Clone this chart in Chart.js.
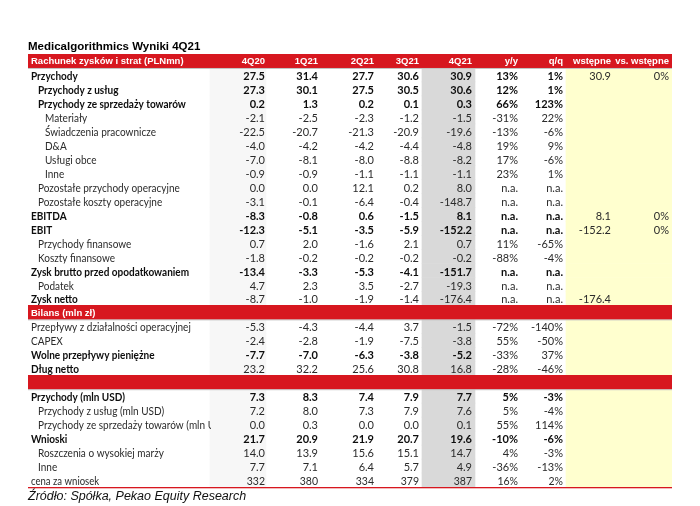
<!DOCTYPE html>
<html><head><meta charset="utf-8">
<script src="https://cdn.jsdelivr.net/npm/chart.js@4/dist/chart.umd.min.js"></script>
<style>html,body{margin:0;padding:0;background:#fff;}canvas{display:block}</style>
</head><body>
<canvas id="c" width="700" height="506"></canvas>
<script>
// ---------- content / data ----------
const TITLE = 'Medicalgorithmics Wyniki 4Q21';
const SOURCE = 'Źródło: Spółka, Pekao Equity Research';
const HEADER_LABEL = 'Rachunek zysków i strat (PLNmn)';
const COLUMNS = ['4Q20', '1Q21', '2Q21', '3Q21', '4Q21', 'y/y', 'q/q', 'wstępne', 'vs. wstępne'];
const ROW_LABELS = [
  'Przychody', 'Przychody z usług', 'Przychody ze sprzedaży towarów', 'Materiały',
  'Świadczenia pracownicze', 'D&A', 'Usługi obce', 'Inne',
  'Pozostałe przychody operacyjne', 'Pozostałe koszty operacyjne', 'EBITDA', 'EBIT',
  'Przychody finansowe', 'Koszty finansowe', 'Zysk brutto przed opodatkowaniem', 'Podatek',
  'Zysk netto', 'Bilans (mln zł)', 'Przepływy z działalności operacyjnej', 'CAPEX',
  'Wolne przepływy pieniężne', 'Dług netto', '', 'Przychody (mln USD)',
  'Przychody z usług (mln USD)', 'Przychody ze sprzedaży towarów (mln USD)', 'Wnioski',
  'Roszczenia o wysokiej marży', 'Inne', 'cena za wniosek'
];
const Q4_20 = [27.5, 27.3, 0.2, -2.1, -22.5, -4.0, -7.0, -0.9, 0.0, -3.1, -8.3, -12.3, 0.7, -1.8, -13.4, 4.7, -8.7, null, -5.3, -2.4, -7.7, 23.2, null, 7.3, 7.2, 0.0, 21.7, 14.0, 7.7, 332];
const Q1_21 = [31.4, 30.1, 1.3, -2.5, -20.7, -4.2, -8.1, -0.9, 0.0, -0.1, -0.8, -5.1, 2.0, -0.2, -3.3, 2.3, -1.0, null, -4.3, -2.8, -7.0, 32.2, null, 8.3, 8.0, 0.3, 20.9, 13.9, 7.1, 380];
const Q2_21 = [27.7, 27.5, 0.2, -2.3, -21.3, -4.2, -8.0, -1.1, 12.1, -6.4, 0.6, -3.5, -1.6, -0.2, -5.3, 3.5, -1.9, null, -4.4, -1.9, -6.3, 25.6, null, 7.4, 7.3, 0.0, 21.9, 15.6, 6.4, 334];
const Q3_21 = [30.6, 30.5, 0.1, -1.2, -20.9, -4.4, -8.8, -1.1, 0.2, -0.4, -1.5, -5.9, 2.1, -0.2, -4.1, -2.7, -1.4, null, 3.7, -7.5, -3.8, 30.8, null, 7.9, 7.9, 0.0, 20.7, 15.1, 5.7, 379];
const Q4_21 = [30.9, 30.6, 0.3, -1.5, -19.6, -4.8, -8.2, -1.1, 8.0, -148.7, 8.1, -152.2, 0.7, -0.2, -151.7, -19.3, -176.4, null, -1.5, -3.8, -5.2, 16.8, null, 7.7, 7.6, 0.1, 19.6, 14.7, 4.9, 387];
// percentages; NaN = "n.a.", null = empty cell
const YOY = [13, 12, 66, -31, -13, 19, 17, 23, NaN, NaN, NaN, NaN, 11, -88, NaN, NaN, NaN, null, -72, 55, -33, -28, null, 5, 5, 55, -10, 4, -36, 16];
const QOQ = [1, 1, 123, 22, -6, 9, -6, 1, NaN, NaN, NaN, NaN, -65, -4, NaN, NaN, NaN, null, -140, -50, 37, -46, null, -3, -4, 114, -6, -3, -13, 2];
const PRELIM = [30.9, null, null, null, null, null, null, null, null, null, 8.1, -152.2, null, null, null, null, -176.4, null, null, null, null, null, null, null, null, null, null, null, null, null];
const VS_PRELIM = [0, null, null, null, null, null, null, null, null, null, 0, 0, null, null, null, null, null, null, null, null, null, null, null, null, null, null, null, null, null, null];

// ---------- styles (kept apart from data) ----------
const SECTION_ROWS = [17, 22];                 // red band rows
const INDENT = [0,1,1,2,2,2,2,2,1,1,0,0,1,1,0,1,0,0,0,0,0,0,0,0,1,1,0,1,1,0];
const BOLD_LABEL = [1,1,1,0,0,0,0,0,0,0,1,1,0,0,1,0,1,0,0,0,1,1,0,1,0,0,1,0,0,0];
const BOLD_VAL   = [1,1,1,0,0,0,0,0,0,0,1,1,0,0,1,0,0,0,0,0,1,0,0,1,0,0,1,0,0,0];
const BOLD_PCT   = [1,1,1,0,0,0,0,0,0,0,1,1,0,0,1,0,0,0,0,0,0,0,0,1,0,0,1,0,0,0];
const SMALL_ROWS = [29];
const INT_ROWS = [29];
// layout in table units (x axis)
const TABLE_X = [28, 672];
const COL_RIGHT = [265, 318, 374, 419, 472, 518, 563, 611, 669];
const LABEL_X = 31, INDENT_STEP = 7, LABEL_CLIP = 211;
const FAINT_COL = [210, 266], GREY_COL = [422, 475], YELLOW_COL = [566, 672];

const RED = '#d7171f';
const BODY_FONT = 'Lato, "Open Sans", sans-serif';
const HEAD_FONT = '"Liberation Sans", Arial, sans-serif';
const LABEL_SQUEEZE = 0.91;
const C_BOLD = '#0d0d0d', C_REG = '#2b2b2b';

// ---------- build chart ----------
const N = ROW_LABELS.length + 1;               // +1 header row
const rowKeys = ['hdr'].concat(ROW_LABELS.map((l, i) => 'r' + i));
const isRed = r => r === 0 || SECTION_ROWS.includes(r - 1);
const band = (range, pred) => rowKeys.map((k, r) => pred(r) ? range.slice() : null);

const datasets = [
  { data: band(TABLE_X, r => isRed(r)), backgroundColor: RED },
  { data: band(YELLOW_COL, r => !isRed(r)), backgroundColor: '#ffffcf' },
  { data: band(GREY_COL, r => !isRed(r)), backgroundColor: '#d9d9d9' },
  { data: band(FAINT_COL, r => !isRed(r)), backgroundColor: '#f7f7f7' }
].map(d => Object.assign(d, { grouped: false, barPercentage: 1, categoryPercentage: 1, borderWidth: 0 }));

const fmtQ = (v, i) => v == null ? '' : v.toFixed(INT_ROWS.includes(i) ? 0 : 1);
const fmtP = v => v == null ? '' : (isNaN(v) ? 'n.a.' : Math.round(v) + '%');

const tablePlugin = {
  id: 'tableText',
  afterDatasetsDraw(chart) {
    const { ctx, chartArea: ca } = chart;
    const xs = chart.scales.x, ys = chart.scales.y;
    const X = v => xs.getPixelForValue(v);
    const Y = r => ys.getPixelForValue(r);
    const rowH = Math.abs(Y(1) - Y(0));
    ctx.save();
    // grey lines below red bands
    ctx.fillStyle = '#c4c4c4';
    for (let r = 0; r < N; r++) if (isRed(r)) ctx.fillRect(X(TABLE_X[0]), Y(r) + rowH / 2, X(TABLE_X[1]) - X(TABLE_X[0]), 1);
    // bottom red rule
    ctx.fillStyle = RED;
    ctx.fillRect(X(TABLE_X[0]), ca.bottom, X(TABLE_X[1]) - X(TABLE_X[0]), 1.3);

    // title & source
    ctx.fillStyle = '#000';
    ctx.textBaseline = 'middle';
    ctx.textAlign = 'left';
    ctx.font = 'bold 11.5px ' + HEAD_FONT;
    ctx.fillText(TITLE, X(TABLE_X[0]), ca.top - 7.5);
    ctx.font = 'italic 12.5px ' + HEAD_FONT;
    ctx.fillStyle = '#111';
    ctx.fillText(SOURCE, X(TABLE_X[0]), ca.bottom + 9.5);

    // header row
    ctx.fillStyle = '#fff';
    ctx.font = 'bold 9.5px ' + HEAD_FONT;
    ctx.fillText(HEADER_LABEL, X(LABEL_X), Y(0) + 0.5);
    ctx.textAlign = 'right';
    COLUMNS.forEach((c, j) => ctx.fillText(c, X(COL_RIGHT[j]), Y(0) + 0.5));

    const cols = [Q4_20, Q1_21, Q2_21, Q3_21, Q4_21];
    ROW_LABELS.forEach((lab, i) => {
      const r = i + 1, y = Y(r) + 1.5;
      if (SECTION_ROWS.includes(i)) {
        ctx.textAlign = 'left';
        ctx.fillStyle = '#fff';
        ctx.font = 'bold 9.5px ' + HEAD_FONT;
        ctx.fillText(lab, X(LABEL_X), Y(r) + 0.5);
        return;
      }
      const size = SMALL_ROWS.includes(i) ? 10.5 : 11;
      const reg = size + 'px ' + BODY_FONT, bold = 'bold ' + size + 'px ' + BODY_FONT;
      // label (clipped at first value column, slightly condensed)
      ctx.save();
      ctx.beginPath();
      ctx.rect(X(TABLE_X[0]), Y(r) - rowH / 2, X(LABEL_CLIP) - X(TABLE_X[0]), rowH);
      ctx.clip();
      ctx.textAlign = 'left';
      ctx.font = BOLD_LABEL[i] ? bold : reg;
      ctx.fillStyle = BOLD_LABEL[i] ? C_BOLD : C_REG;
      ctx.translate(X(LABEL_X + INDENT[i] * INDENT_STEP), y);
      ctx.scale(LABEL_SQUEEZE, 1);
      ctx.fillText(lab, 0, 0);
      ctx.restore();
      ctx.textAlign = 'right';
      ctx.font = BOLD_VAL[i] ? bold : reg;
      ctx.fillStyle = BOLD_VAL[i] ? C_BOLD : C_REG;
      cols.forEach((arr, j) => ctx.fillText(fmtQ(arr[i], i), X(COL_RIGHT[j]), y));
      ctx.font = BOLD_PCT[i] ? bold : reg;
      ctx.fillStyle = BOLD_PCT[i] ? C_BOLD : C_REG;
      ctx.fillText(fmtP(YOY[i]), X(COL_RIGHT[5]), y);
      ctx.fillText(fmtP(QOQ[i]), X(COL_RIGHT[6]), y);
      ctx.font = reg;
      ctx.fillStyle = C_REG;
      ctx.fillText(fmtQ(PRELIM[i], i), X(COL_RIGHT[7]), y);
      ctx.fillText(fmtP(VS_PRELIM[i]), X(COL_RIGHT[8]), y);
    });
    ctx.restore();
  }
};

new Chart(document.getElementById('c'), {
  type: 'bar',
  data: { labels: rowKeys, datasets },
  options: {
    indexAxis: 'y',
    responsive: false,
    animation: false,
    events: [],
    layout: { padding: { left: 28, right: 28, top: 54, bottom: 19 } },
    scales: {
      x: { type: 'linear', min: TABLE_X[0], max: TABLE_X[1], display: false },
      y: { type: 'category', display: false, offset: true }
    },
    plugins: { legend: { display: false }, tooltip: { enabled: false }, title: { display: false } }
  },
  plugins: [tablePlugin]
});
</script>
</body></html>
